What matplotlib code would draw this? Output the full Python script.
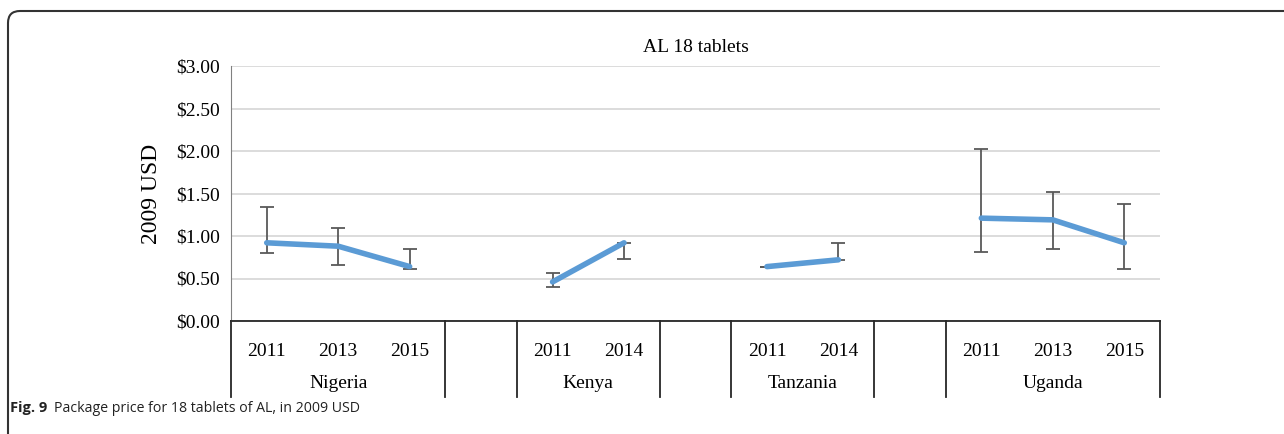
import numpy as np
import matplotlib
matplotlib.use('Agg')
import matplotlib.pyplot as plt
import matplotlib.transforms as mtransforms
from matplotlib.patches import FancyBboxPatch

plt.rc('font', family='Liberation Serif', size=13)

# category slots (empty strings are the blank gap columns)
years = ['2011', '2013', '2015', '', '2011', '2014', '', '2011', '2014', '', '2011', '2013', '2015']
countries = ['Nigeria', 'Kenya', 'Tanzania', 'Uganda']
country_slots = [(0, 2), (4, 5), (7, 8), (10, 12)]

price = [0.92, 0.88, 0.64, np.nan, 0.46, 0.92, np.nan, 0.64, 0.72, np.nan, 1.21, 1.19, 0.92]
err_low = [0.80, 0.66, 0.61, np.nan, 0.40, 0.73, np.nan, 0.64, 0.72, np.nan, 0.81, 0.85, 0.61]
err_high = [1.34, 1.09, 0.85, np.nan, 0.56, 0.92, np.nan, 0.64, 0.92, np.nan, 2.02, 1.52, 1.38]

price = np.array(price)
x = np.arange(len(years))
yerr = [price - np.array(err_low), np.array(err_high) - price]

W, H = 1284, 434
fig = plt.figure(figsize=(W / 100, H / 100), dpi=100)
ax = fig.add_axes([231 / W, (H - 321) / H, (1160 - 231) / W, (321 - 66) / H])

ax.errorbar(x, price, yerr=yerr, fmt='none', ecolor='#595959', elinewidth=1.3,
            capsize=5, capthick=1.3, zorder=3)
ax.plot(x, price, '-', color='#5b9bd5', lw=4, solid_capstyle='round', zorder=4)

ax.set_xlim(-0.5, len(years) - 0.5)
ax.set_ylim(0, 3)
ax.set_yticks(np.arange(0, 3.01, 0.5))
ax.set_yticklabels(['${:.2f}'.format(v) for v in np.arange(0, 3.01, 0.5)])
ax.yaxis.grid(True, color='#d9d9d9', lw=1.3)
ax.set_axisbelow(True)
ax.tick_params(axis='y', length=0, pad=8, labelsize=14)
ax.set_xticks(x)
ax.set_xticklabels(years, fontsize=14)
ax.tick_params(axis='x', length=0, pad=16)
for s in ['top', 'right']:
    ax.spines[s].set_visible(False)
ax.spines['left'].set_color('#808080')
ax.spines['bottom'].set_color('#262626')
ax.spines['bottom'].set_linewidth(1.3)

ax.set_ylabel('2009 USD', fontsize=17, labelpad=10)
ax.set_title('AL 18 tablets', fontsize=14, pad=10)

# two-level category axis: dividers and country names
trans = mtransforms.blended_transform_factory(ax.transData, ax.transAxes)
bottom = -(397 - 321) / (321 - 66)
for d in [-0.5, 2.5, 3.5, 5.5, 6.5, 8.5, 9.5, 12.5]:
    ax.plot([d, d], [0, bottom], color='#262626', lw=1.3, transform=trans, clip_on=False)
for name, (a, b) in zip(countries, country_slots):
    ax.text((a + b) / 2, -(384 - 321) / (321 - 66), name, transform=trans,
            ha='center', va='center', fontsize=14)

# rounded frame and caption
frame = FancyBboxPatch((8, -40), 1400, H - 11 + 40, boxstyle='round,pad=0,rounding_size=12',
                       transform=mtransforms.IdentityTransform(), fill=False,
                       edgecolor='#333333', lw=1.5)
fig.patches.append(frame)
fig.text(10 / W, 1 - 408 / H, 'Fig. 9', fontsize=10.5, fontweight='bold',
         family='Open Sans', va='center', color='#222222')
fig.text(54 / W, 1 - 408 / H, 'Package price for 18 tablets of AL, in 2009 USD', fontsize=10.2,
         family='Open Sans', va='center', color='#222222')

fig.savefig('out.png', dpi=100)
